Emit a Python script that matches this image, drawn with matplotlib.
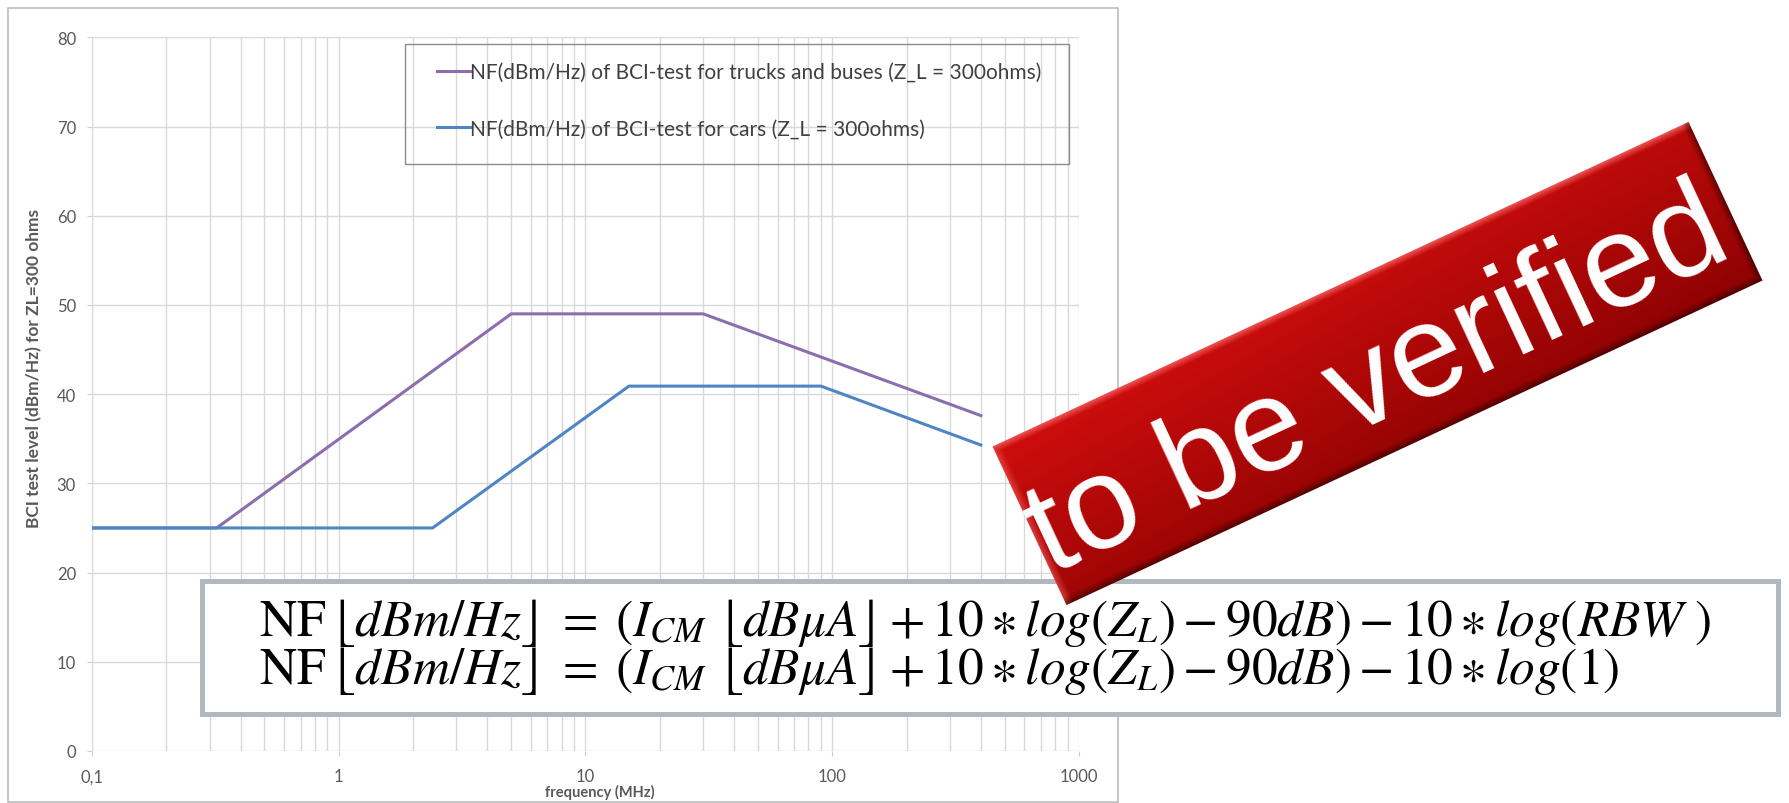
import numpy as np
import matplotlib
matplotlib.use('Agg')
import matplotlib.pyplot as plt
from matplotlib.patches import Rectangle, Polygon
from matplotlib.ticker import FixedLocator, NullFormatter

# data
freq_trucks = [0.1, 0.32, 5, 30, 400]
level_trucks = [25, 25, 49, 49, 37.6]
freq_cars = [0.1, 2.4, 15, 90, 400]
level_cars = [25, 25, 40.9, 40.9, 34.3]
label_trucks = 'NF(dBm/Hz) of BCI-test for trucks and buses (Z_L = 300ohms)'
label_cars = 'NF(dBm/Hz) of BCI-test for cars (Z_L = 300ohms)'
x_ticks = [0.1, 1, 10, 100, 1000]
x_ticklabels = ['0,1', '1', '10', '100', '1000']
y_ticks = [0, 10, 20, 30, 40, 50, 60, 70, 80]
formula_1 = (r'$\mathrm{NF}\,\lfloor dBm/Hz\rfloor\;=\;(I_{CM}\ \lfloor dB\mu A\rfloor + 10 \ast '
             r'log(Z_L) - 90dB) - 10 \ast log(RBW\ )$')
formula_2 = (r'$\mathrm{NF}\,\lfloor dBm/Hz\rfloor\;=\;(I_{CM}\ \lfloor dB\mu A\rfloor + 10 \ast '
             r'log(Z_L) - 90dB) - 10 \ast log(1)$')
stamp_text = 'to be verified'

plt.rcParams['font.family'] = ['Lato', 'DejaVu Sans']
plt.rcParams['mathtext.fontset'] = 'stix'

W, H = 1790, 804
fig = plt.figure(figsize=(W / 100, H / 100), dpi=100)
fig.patch.set_facecolor('white')

# chart (plot area in pixels: x 92..1079, y 38..752)
ax = fig.add_axes([92 / W, 1 - 752 / H, (1079 - 92) / W, (752 - 38.3) / H])
ax.set_xscale('log')
ax.set_xlim(0.1, 1000)
ax.set_ylim(0, 80)
ax.plot(freq_trucks, level_trucks, color='#8B6DB0', lw=2.2, label=label_trucks, zorder=3)
ax.plot(freq_cars, level_cars, color='#4F85C4', lw=2.2, label=label_cars, zorder=4)

ax.xaxis.set_major_locator(FixedLocator(x_ticks))
ax.set_xticklabels(x_ticklabels)
minors = [m * 10.0 ** k for k in range(-1, 3) for m in range(2, 10)]
ax.xaxis.set_minor_locator(FixedLocator(minors))
ax.xaxis.set_minor_formatter(NullFormatter())
ax.set_yticks(y_ticks)
ax.grid(True, which='both', axis='x', color='#d9d9d9', lw=1.0)
ax.grid(True, which='major', axis='y', color='#d9d9d9', lw=1.0)
ax.set_axisbelow(True)
for s in ax.spines.values():
    s.set_visible(False)
ax.tick_params(axis='both', which='major', colors='#d0d0d0', labelcolor='#595959',
               labelsize=12, length=3.5)
ax.tick_params(axis='x', which='major', pad=9)
ax.tick_params(axis='y', which='major', pad=8)
ax.tick_params(axis='x', which='minor', length=0)

fig.text(600 / W, 1 - 792 / H, 'frequency (MHz)', ha='center', va='center',
         fontsize=10.5, fontweight='bold', color='#595959')
fig.text(34 / W, 1 - 368 / H, 'BCI test level (dBm/Hz) for ZL=300 ohms', rotation=90,
         ha='center', va='center', fontsize=12.5, fontweight='bold', color='#595959')

leg = ax.legend(loc='upper left', bbox_to_anchor=(437 / W, 1 - 63 / H),
                bbox_transform=fig.transFigure, frameon=False, fontsize=15,
                handlelength=1.6, handletextpad=0.0, labelspacing=1.75,
                borderpad=0, borderaxespad=0)
for t in leg.get_texts():
    t.set_color('#404040')

# overlay in pixel coordinates
ov = fig.add_axes([0, 0, 1, 1])
ov.set_xlim(0, W)
ov.set_ylim(H, 0)
ov.axis('off')
ov.patch.set_visible(False)

ov.add_patch(Rectangle((8, 9), 1110, 794, fill=False, edgecolor='#bcbcbc', lw=1.2, zorder=1))
ov.add_patch(Rectangle((405, 45), 664, 120, fill=False, edgecolor='#8c8c8c', lw=1.0, zorder=1))

# formula box
ov.add_patch(Rectangle((202, 582), 1576, 133, facecolor='white', edgecolor='#b3b8bf',
                       lw=3.6, zorder=2))
ov.text(259, 623, formula_1, fontsize=37, ha='left', va='center', color='black', zorder=3)
ov.text(259, 671, formula_2, fontsize=37, ha='left', va='center', color='black', zorder=3)

# red stamp
cx, cy = 1377.5, 364.5
ang = np.deg2rad(25)
L, T = 768, 175
u = np.array([np.cos(ang), -np.sin(ang)])
v = np.array([np.sin(ang), np.cos(ang)])
c = np.array([cx, cy])
corners = [c - u * L / 2 - v * T / 2, c + u * L / 2 - v * T / 2,
           c + u * L / 2 + v * T / 2, c - u * L / 2 + v * T / 2]
corners = np.array(corners)
x0, x1 = corners[:, 0].min() - 2, corners[:, 0].max() + 2
y0, y1 = corners[:, 1].min() - 2, corners[:, 1].max() + 2
X, Y = np.meshgrid(np.linspace(x0, x1, int(x1 - x0)), np.linspace(y0, y1, int(y1 - y0)))
S = (X - cx) * u[0] + (Y - cy) * u[1]
Tt = (X - cx) * v[0] + (Y - cy) * v[1]
w = np.clip(0.5 + 0.15 * S / (L / 2) + 0.4 * Tt / (T / 2), 0, 1)
top_col = np.array([0.80, 0.05, 0.05])
bot_col = np.array([0.57, 0.01, 0.01])
img = top_col * (1 - w[..., None]) + bot_col * w[..., None]
b = 8.0
d_top = np.clip(1 - (Tt + T / 2) / b, 0, 1)
d_left = np.clip(1 - (S + L / 2) / b, 0, 1)
d_bot = np.clip(1 - (T / 2 - Tt) / b, 0, 1)
d_right = np.clip(1 - (L / 2 - S) / b, 0, 1)
light = np.maximum(d_top, d_left * 0.6)[..., None]
dark = np.maximum(d_bot, d_right)[..., None]
img = img * (1 - light) + np.array([0.95, 0.35, 0.35]) * light
img = img * (1 - 0.45 * dark)
img = np.clip(img, 0, 1)
poly = Polygon(corners, closed=True, facecolor='none', edgecolor='none', zorder=5)
ov.add_patch(poly)
im = ov.imshow(img, extent=(x0, x1, y1, y0), origin='upper', interpolation='bilinear',
               aspect='auto', zorder=5)
im.set_clip_path(poly)
ov.set_xlim(0, W)
ov.set_ylim(H, 0)

anchor = c - u * 8 + v * 53
ov.text(anchor[0], anchor[1], stamp_text, rotation=25, rotation_mode='anchor',
        ha='center', va='baseline', fontsize=95, color='white',
        family=['Liberation Sans', 'DejaVu Sans'], zorder=6)

fig.savefig('out.png', dpi=100, facecolor='white')
